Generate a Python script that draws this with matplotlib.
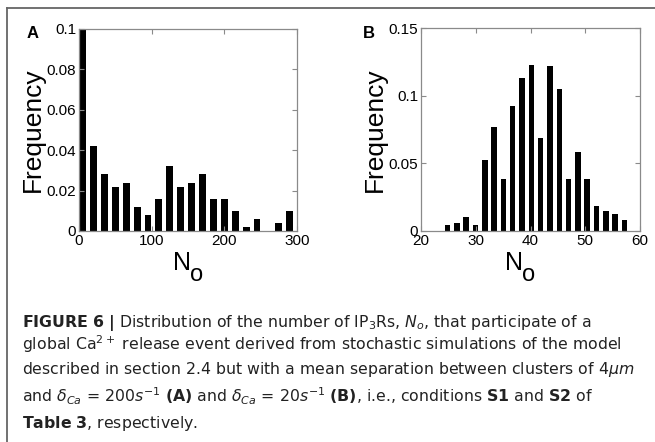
import numpy as np
import matplotlib.pyplot as plt
from matplotlib.lines import Line2D

plt.rcParams['font.family'] = ['Liberation Sans', 'DejaVu Sans']
plt.rcParams['mathtext.fontset'] = 'dejavusans'

# panel A: histogram of N_o (S1)
binsA = 5 + 15 * np.arange(20)
freqA = [0.100, 0.042, 0.028, 0.022, 0.024, 0.012, 0.008, 0.016, 0.032, 0.022,
         0.024, 0.028, 0.016, 0.016, 0.010, 0.002, 0.006, 0.000, 0.004, 0.010]
xticksA = [0, 100, 200, 300]
yticksA = [0, 0.02, 0.04, 0.06, 0.08, 0.1]
ylabsA = ['0', '0.02', '0.04', '0.06', '0.08', '0.1']

# panel B: histogram of N_o (S2)
binsB = 24.85 + 1.7 * np.arange(20)
freqB = [0.0042, 0.0062, 0.0101, 0.0042, 0.0523, 0.0765, 0.0385, 0.0925, 0.1128, 0.1229,
         0.0688, 0.1219, 0.1049, 0.0385, 0.0582, 0.0385, 0.0183, 0.0148, 0.0123, 0.0084]
xticksB = [20, 30, 40, 50, 60]
yticksB = [0, 0.05, 0.1, 0.15]
ylabsB = ['0', '0.05', '0.1', '0.15']

fig = plt.figure(figsize=(6.55, 4.42), dpi=100)
W, H = 655.0, 442.0


def setup(ax, xlim, ylim, xt, yt, ylabs):
    ax.set_xlim(*xlim)
    ax.set_ylim(*ylim)
    ax.set_xticks(xt)
    ax.set_xticklabels([str(v) for v in xt])
    ax.set_yticks(yt)
    ax.set_yticklabels(ylabs)
    for s in ax.spines.values():
        s.set_color('#8a8a8a')
        s.set_linewidth(0.9)
    ax.tick_params(direction='in', length=3.5, width=0.8, color='#8a8a8a',
                   top=True, right=True, labelsize=11, pad=2)
    ax.set_ylabel('Frequency', fontsize=19, labelpad=1)


def xlabel_no(xn):
    # "N" with a large lowered "o", as in the original figure
    fig.text(xn / W, 1 - 270 / H, 'N', fontsize=18, va='baseline', ha='left')
    fig.text((xn + 17) / W, 1 - 281 / H, 'o', fontsize=17, va='baseline', ha='left')


axA = fig.add_axes([79 / W, 1 - 231 / H, 218 / W, 202 / H])
axA.bar(binsA, freqA, width=9.5, color='black')
setup(axA, (0, 300), (0, 0.1), xticksA, yticksA, ylabsA)
xlabel_no(173)

axB = fig.add_axes([421 / W, 1 - 231 / H, 219 / W, 203 / H])
axB.bar(binsB, freqB, width=1.0, color='black')
setup(axB, (20, 60), (0, 0.15), xticksB, yticksB, ylabsB)
xlabel_no(505)

fig.text(27 / W, 1 - 38 / H, 'A', fontsize=12, fontweight='bold')
fig.text(363 / W, 1 - 38 / H, 'B', fontsize=12, fontweight='bold')

# border of the figure box
fig.add_artist(Line2D([7 / W, 7 / W], [0, 1 - 8 / H], color='#666666', lw=1.3))
fig.add_artist(Line2D([7 / W, 1], [1 - 8 / H, 1 - 8 / H], color='#666666', lw=1.3))

caption = [
    r'$\mathbf{FIGURE\ 6\ |}$ Distribution of the number of IP$_3$Rs, $N_o$, that participate of a',
    r'global Ca$^{2+}$ release event derived from stochastic simulations of the model',
    r'described in section 2.4 but with a mean separation between clusters of 4$\mu m$',
    r'and $\delta_{Ca}$ = 200$s^{-1}$ $\mathbf{(A)}$ and $\delta_{Ca}$ = 20$s^{-1}$ $\mathbf{(B)}$, i.e., conditions $\mathbf{S1}$ and $\mathbf{S2}$ of',
    r'$\mathbf{Table\ 3}$, respectively.',
]
baselines = [327, 350, 374, 402, 428]
for line, yb in zip(caption, baselines):
    fig.text(22 / W, 1 - yb / H, line, fontsize=11.3, color='#222222',
             va='baseline', family='DejaVu Sans')

fig.savefig('out.png', dpi=100)
